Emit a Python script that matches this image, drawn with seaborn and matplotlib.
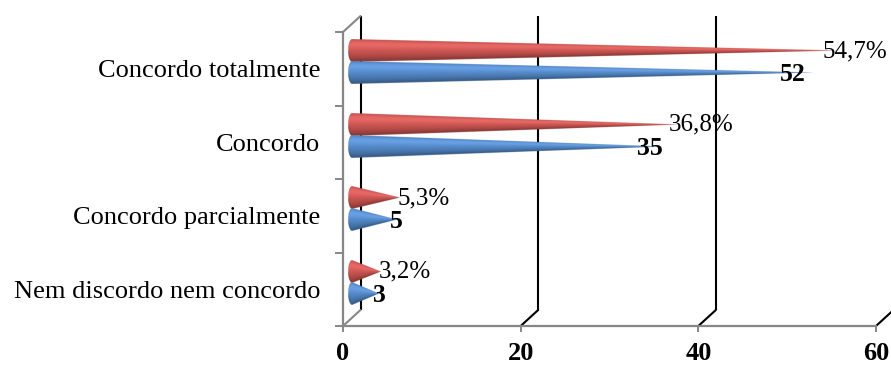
import numpy as np
import pandas as pd
import matplotlib
matplotlib.use("Agg")
import matplotlib.pyplot as plt
import seaborn as sns
from matplotlib.colors import to_rgb

# ---- data ----
categorias = ["Concordo totalmente", "Concordo", "Concordo parcialmente",
              "Nem discordo nem concordo"]
series = ["Percentual", "Frequência"]
percentual = [54.7, 36.8, 5.3, 3.2]
frequencia = [52, 35, 5, 3]
eixo_x = [0, 20, 40, 60]
cores = ["#C0504D", "#4F81BD"]

df = pd.DataFrame({
    "categoria": categorias * 2,
    "serie": [series[0]] * len(categorias) + [series[1]] * len(categorias),
    "valor": percentual + frequencia,
})

sns.set_theme(style="white")
plt.rcParams["font.family"] = ["Liberation Serif", "DejaVu Serif"]

W, H = 891, 368
fig = plt.figure(figsize=(W / 100, H / 100), dpi=100)
left_px, right_px, top_px, bot_px = 343, 876, 32, 326
ax = fig.add_axes([left_px / W, 1 - bot_px / H,
                   (right_px - left_px) / W, (bot_px - top_px) / H])

sns.barplot(data=df, x="valor", y="categoria", hue="serie", order=categorias,
            hue_order=series, palette=cores, width=0.6, orient="h",
            legend=False, ax=ax)

ux = (right_px - left_px) / 60.0          # pixels per x unit
uy = (bot_px - top_px) / 4.0              # pixels per category
gray = "#878787"

# oblique depth offsets (back wall and middle of the box)
bdx, bdy = 17.5 / ux, -16.0 / uy
mdx, mdy = 8.5 / ux, -6.7 / uy


def cone(length, yc, half, color, zorder=3, ss=4):
    """Shaded horizontal cone with elliptical base at x=0, apex at x=length."""
    base = np.array(to_rgb(color))
    ex = 4.0 / ux
    xs0, xs1 = -ex, length
    nx = int((xs1 - xs0) * ux * ss) + 2
    ny = int(2 * half * uy * ss) + 2
    xs = np.linspace(xs0, xs1, nx)
    ys = np.linspace(-half, half, ny)
    X, Y = np.meshgrid(xs, ys)
    r = np.where(X >= 0, half * (1 - X / length),
                 half * np.sqrt(np.clip(1 - (X / ex) ** 2, 0, 1)))
    dist = (r - np.abs(Y)) * uy * ss
    alpha = np.clip(dist + 0.5, 0, 1)
    t = np.clip(Y / np.maximum(r, 1e-9), -1, 1)
    nz = np.sqrt(1 - t ** 2)
    d = np.clip(-0.55 * t + 0.835 * nz, 0, 1)
    shade = 0.74 + 0.38 * d
    spec = 0.06 * d ** 12
    rgb = np.clip(base[None, None, :] * shade[..., None] + spec[..., None], 0, 1)
    img = np.dstack([rgb, alpha])
    ax.imshow(img, extent=(xs0 + mdx, xs1 + mdx, yc + mdy + half, yc + mdy - half),
              origin="upper", aspect="auto", interpolation="antialiased",
              zorder=zorder)


for ci, cont in enumerate(ax.containers):
    for patch in cont:
        w = patch.get_width()
        h = patch.get_height()
        yc = patch.get_y() + h / 2
        patch.set_visible(False)
        cone(w, yc, h / 2, cores[ci])
        if ci == 0:
            ax.text(w * 0.97 + mdx, yc + mdy, f"{w:.1f}".replace(".", ",") + "%",
                    ha="left", va="center", fontsize=18, color="black", zorder=6)
        else:
            ax.text(w * 0.95 + 0.3 + mdx, yc + mdy + 0.02, f"{w:.0f}",
                    ha="center", va="center", fontsize=18.5, fontweight="bold",
                    color="black", zorder=6)

# back wall gridlines and floor diagonals
for v in eixo_x:
    ax.plot([v + bdx, v + bdx], [-0.5 + bdy, 3.5 + bdy], color="black", lw=1.5,
            clip_on=False, zorder=1, solid_capstyle="butt")
    ax.plot([v, v + bdx], [3.5, 3.5 + bdy], color="black" if v else gray,
            lw=1.5, clip_on=False, zorder=1)
ax.plot([0, bdx], [-0.5, -0.5 + bdy], color=gray, lw=1.5, clip_on=False, zorder=1)

ax.set_xlim(0, 60)
ax.set_ylim(3.5, -0.5)
ax.set_xlabel("")
ax.set_ylabel("")
ax.grid(False)

for s in ["top", "right"]:
    ax.spines[s].set_visible(False)
for s in ["left", "bottom"]:
    ax.spines[s].set_color(gray)
    ax.spines[s].set_linewidth(1.6)

ax.set_xticks(eixo_x)
ax.set_xticklabels([str(v) for v in eixo_x], fontsize=19, fontweight="bold")
ax.tick_params(axis="x", bottom=True, length=4.3, width=1.4, color=gray,
               pad=7, labelcolor="black")

ax.set_yticks(range(len(categorias)))
ax.set_yticklabels(categorias, fontsize=19)
ax.set_yticks(np.arange(-0.5, len(categorias), 1.0), minor=True)
ax.tick_params(axis="y", which="major", left=True, length=0, pad=16.5,
               labelcolor="black")
ax.tick_params(axis="y", which="minor", left=True, length=5.8, width=1.4,
               color=gray)

fig.savefig("out.png", dpi=100)
